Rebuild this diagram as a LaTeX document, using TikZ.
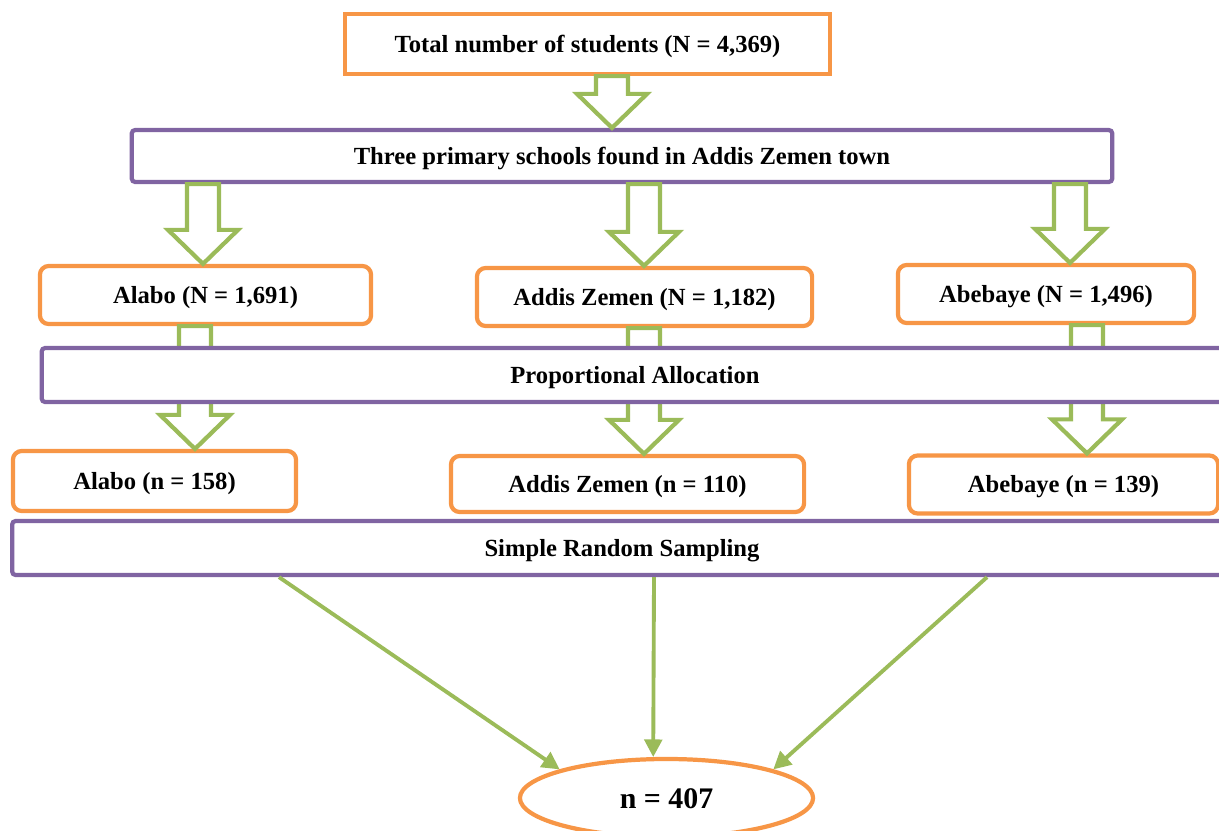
\documentclass[tikz,border=0pt]{standalone}
\usepackage{fontspec}
\setmainfont{Liberation Serif}
\usetikzlibrary{shapes.geometric,arrows.meta,calc}
\definecolor{boxorange}{HTML}{F79646}
\definecolor{boxpurple}{HTML}{8064A2}
\definecolor{arrowgreen}{HTML}{9BBB59}
\tikzset{
  stage/.style={draw=boxorange,line width=1.2pt,fill=white,rounded corners=2.5pt,inner sep=0pt,text height=4.8pt,text depth=0pt,font=\fontsize{7}{8}\selectfont\bfseries},
  method/.style={stage,draw=boxpurple,rounded corners=1pt},
  blockarrow/.style={draw=arrowgreen,line width=1.2pt,fill=white,line join=miter},
  pick/.style={draw=arrowgreen,line width=1.1pt,-{Triangle[length=5pt,width=5pt]}}
}
\begin{document}
\begin{tikzpicture}[x=0.01cm,y=-0.01cm]
\useasboundingbox (0,0) rectangle (1219,830);

\node[stage,sharp corners,minimum width=4.85cm,minimum height=0.6cm] (total) at (587.5,44) {Total number of students (N = 4,369)};
\node[method,minimum width=9.8cm,minimum height=0.52cm] (schools) at (622,156) {Three primary schools found in Addis Zemen town};

\node[stage,minimum width=3.31cm,minimum height=0.58cm] (alaboN) at (205.5,295) {Alabo (N = 1,691)};
\node[stage,minimum width=3.35cm,minimum height=0.58cm] (addisN) at (644.5,297) {Addis Zemen (N = 1,182)};
\node[stage,minimum width=2.96cm,minimum height=0.58cm] (abebN) at (1046,294) {Abebaye (N = 1,496)};

\node[stage,minimum width=2.83cm,minimum height=0.6cm] (alabon) at (154.5,481) {Alabo (n = 158)};
\node[stage,minimum width=3.53cm,minimum height=0.56cm] (addisn) at (627.5,484) {Addis Zemen (n = 110)};
\node[stage,minimum width=3.09cm,minimum height=0.58cm] (abebn) at (1063.5,484.5) {Abebaye (n = 139)};

% hollow arrows between the levels
\foreach \c/\a/\b in {612/total/schools, 203/schools/alaboN, 644/schools/addisN, 1070/schools/abebN,
                      195/alaboN/alabon, 644/addisN/addisn, 1087/abebN/abebn} {
  \coordinate (t) at (\c,0 |- \a.south);
  \coordinate (h) at (\c,0 |- \b.north);
  \draw[blockarrow] ($(t)+(-16,0)$) -- ($(t)+(16,0)$) -- ($(h)+(16,-34)$) -- ($(h)+(35,-34)$)
    -- (h) -- ($(h)+(-35,-34)$) -- ($(h)+(-16,-34)$) -- cycle;
}

\node[method,minimum width=11.86cm,minimum height=0.54cm] (prop) at (635,375) {Proportional Allocation};
\node[method,minimum width=12.19cm,minimum height=0.54cm] (srs) at (622,548) {Simple Random Sampling};

\node[stage,ellipse,minimum width=2.93cm,minimum height=0.78cm,text height=5.8pt,font=\fontsize{8.5}{10}\selectfont\bfseries] (total2) at (666.5,798) {n = 407};

\draw[pick] (279,0 |- srs.south) -- (total2.165);
\draw[pick] (654,0 |- srs.south) -- (total2.108);
\draw[pick] (987,0 |- srs.south) -- (total2.15.5);
\end{tikzpicture}
\end{document}
